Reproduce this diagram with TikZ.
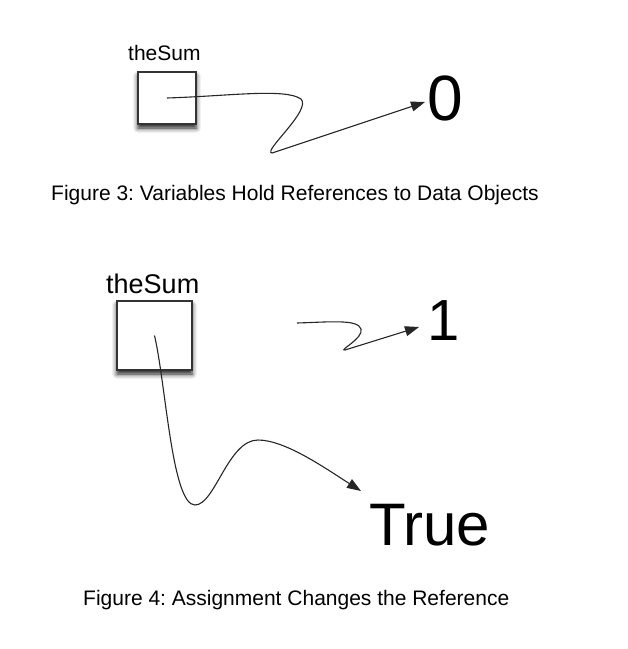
\documentclass[tikz,border=0pt]{standalone}
\usepackage{fontspec}
\setmainfont{Liberation Sans}
\usetikzlibrary{arrows.meta,shadows.blur}
\begin{document}
\frenchspacing
\begin{tikzpicture}[x=1pt,y=-1pt,
  varbox/.style={draw=black!80,line width=1.6pt,fill=white,inner sep=0pt,
    blur shadow={shadow xshift=0pt,shadow yshift=-4pt,shadow blur radius=5pt,shadow opacity=90}},
  lbl/.style={inner sep=0pt,anchor=base west},
  ref/.style={draw=black!85,line width=1.1pt,-{Triangle[length=14pt,width=10pt]}},
  caption/.style={inner sep=0pt,anchor=base west,font=\fontsize{21}{24}\selectfont}]
\useasboundingbox (0,0) rectangle (628,649);
% Figure 3
\node[lbl,font=\fontsize{21}{24}\selectfont] (name1) at (128,60) {theSum};
\node[varbox,minimum width=58pt,minimum height=52pt] (box1) at (167,98) {};
\node[lbl,font=\fontsize{64}{70}\selectfont] (zero) at (427,120) {0};
\coordinate (tip1) at (425,102);
\draw[ref] (box1.center) .. controls (230,96) and (285,88) .. (301,99)
  .. controls (312,110) and (262,152) .. (272,153) -- (tip1);
\node[caption] (cap3) at (51,200) {Figure 3: Variables Hold References to Data Objects};
% Figure 4
\node[lbl,font=\fontsize{27}{30}\selectfont] (name2) at (106,293) {theSum};
\node[varbox,minimum width=75pt,minimum height=69pt] (box2) at (154.5,335.5) {};
\node[lbl,font=\fontsize{58}{64}\selectfont] (one) at (427,340) {1};
\coordinate (start1) at (297,323);
\coordinate (tip2) at (419,327);
\draw[ref] (start1) .. controls (330,322) and (358,319) .. (361,329)
  .. controls (364,338) and (338,351) .. (345,350) -- (tip2);
\node[lbl,font=\fontsize{60}{66}\selectfont] (true) at (369,545) {True};
\coordinate (tip3) at (361,491);
\draw[ref] (box2.center) .. controls (166,385) and (172,505) .. (195,505)
  .. controls (215,505) and (228,440) .. (258,440)
  .. controls (285,440) and (325,468) .. (tip3);
\node[caption] (cap4) at (83,605) {Figure 4: Assignment Changes the Reference};
\end{tikzpicture}
\end{document}
